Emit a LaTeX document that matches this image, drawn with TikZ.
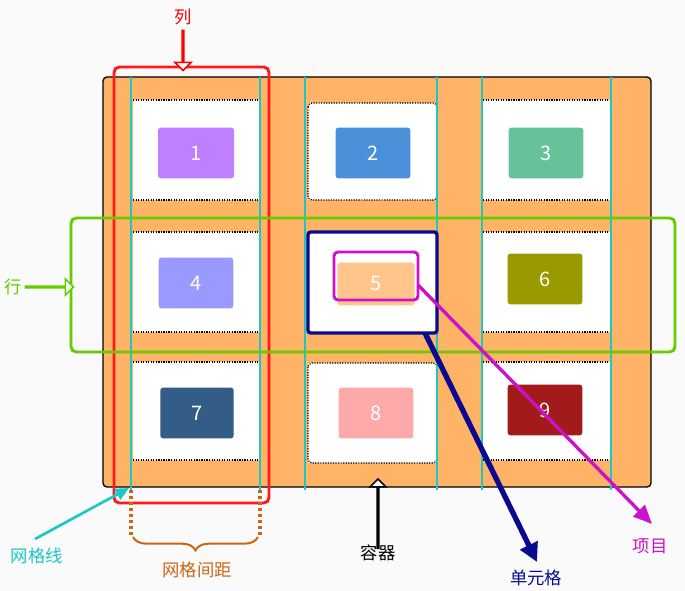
\documentclass[tikz,border=0pt]{standalone}
\usepackage{fontspec}
\setmainfont{Noto Sans CJK SC}
\usetikzlibrary{arrows.meta,decorations.pathreplacing,shapes.arrows}
\definecolor{bg}{HTML}{FAFAFA}
\definecolor{cont}{HTML}{FFB366}
\definecolor{cyanl}{HTML}{1CC7C7}
\definecolor{navy}{HTML}{0A0A90}
\definecolor{mag}{HTML}{CC11CC}
\definecolor{gap}{HTML}{CC6611}
\tikzset{
 cell/.style={fill=white,draw=black,densely dotted,line width=0.9},
 item/.style={rounded corners=2,text=white,font=\fontsize{15}{15}\selectfont,inner sep=0},
 gl/.style={cyanl,line width=2.2},
 lab/.style={font=\fontsize{13}{13}\selectfont,inner sep=0},
 hollow/.style={single arrow,draw,fill=white,line width=1.2,single arrow head extend=5,inner sep=0,minimum height=30,minimum width=12}
}
\begin{document}
\begin{tikzpicture}[x=0.75pt,y=-0.75pt]
\useasboundingbox[fill=bg] (0,0) rectangle (685,591);
\draw[fill=cont,rounded corners=3,line width=1] (103,77) rectangle (651,487);
% cells
\foreach \x/\y/\X/\Y in {133/100/260/200,133/232/260/332,133/362/260/460,308/103/437/200,308/232/437/332,308/363/437/463,483/100/611/200,483/232/611/332,483/362/611/460}
  \fill[white] (\x,\y) rectangle (\X,\Y);
\foreach \x/\y/\X/\Y in {133/100/260/200,133/232/260/332,133/362/260/460,483/100/611/200,483/232/611/332,483/362/611/460}
  {\draw[densely dotted,line width=0.9] (\x,\y) -- (\X,\y); \draw[densely dotted,line width=0.9] (\x,\Y) -- (\X,\Y);}
\foreach \x/\y/\X/\Y in {308/103/437/200,308/363/437/463}
  \draw[densely dotted,line width=0.9,rounded corners=3] (\x,\y) rectangle (\X,\Y);
% items
\node[item,fill={rgb,255:red,191;green,127;blue,255},minimum width=57,minimum height=38] (i1) at (196,153) {1};
\node[item,fill={rgb,255:red,74;green,144;blue,217},minimum width=56,minimum height=38] (i2) at (373,153) {2};
\node[item,fill={rgb,255:red,102;green,194;blue,153},minimum width=56,minimum height=38] (i3) at (546,153) {3};
\node[item,fill={rgb,255:red,153;green,153;blue,255},minimum width=56,minimum height=38] (i4) at (196,283) {4};
\node[item,fill={rgb,255:red,255;green,197;blue,138},minimum width=58,minimum height=32] (i5) at (376,284) {5};
\node[item,fill={rgb,255:red,153;green,153;blue,0},minimum width=56,minimum height=38] (i6) at (545,279) {6};
\node[item,fill={rgb,255:red,51;green,93;blue,134},minimum width=55,minimum height=38] (i7) at (197,413) {7};
\node[item,fill={rgb,255:red,255;green,170;blue,170},minimum width=56,minimum height=38] (i8) at (376,413) {8};
\node[item,fill={rgb,255:red,163;green,26;blue,26},minimum width=56,minimum height=38] (i9) at (545,410) {9};
% grid lines
\foreach \x in {131,260,305,437,482,611} \draw[gl] (\x,77) -- (\x,490);
% highlighted cell and item
\draw[navy,line width=2.5,rounded corners=2] (308,232) rectangle (437,333);
\coordinate (c5) at (425,333);
\draw[mag,line width=2.2,rounded corners=3] (334,252) rectangle (418,300);
\coordinate (m5) at (418,285);
% column / row boxes
\draw[red!90!white,line width=2.2,rounded corners=4] (114,67) rectangle (269,503);
\draw[green!70!black!80!lime,color={rgb,255:red,102;green,204;blue,0},line width=2.2,rounded corners=4] (71,218) rectangle (675,352);
% labels
\node[lab,text=red] (lcol) at (183,17) {列};
\node[hollow,draw=red,shape border rotate=270] (acol) at (183,50) {};
\node[lab,text={rgb,255:red,102;green,204;blue,0}] (lrow) at (13,287) {行};
\node[hollow,draw={rgb,255:red,102;green,204;blue,0},minimum height=36] (arow) at (49,287) {};
\node[hollow,draw=black,shape border rotate=90,minimum height=52] (acont) at (378,514) {};
\node[lab] (lcont) at (378,553) {容器};
\node[lab,text=navy] (lcell) at (536,578) {单元格};
\draw[navy,line width=4,-{Triangle[length=14,width=14]}] (c5) -- (537,562);
\node[lab,text=mag] (litem) at (650,546) {项目};
\draw[mag,line width=2.5,-{Triangle[length=14,width=12]}] (m5) -- (652,524);
\node[lab,text=cyanl] (lgl) at (37,556) {网格线};
\coordinate (glp) at (129,488);
\draw[cyanl,line width=2,-{Triangle[length=10,width=9]}] (35,539) -- (glp);
\draw[gap,line width=2.5,dotted] (131,490) -- (131,535);
\draw[gap,line width=2.5,dotted] (260,490) -- (260,535);
\draw[gap,line width=1.5,decorate,decoration={brace,mirror,amplitude=10}] (133,537) -- (258,537);
\node[lab,text=gap] (lgap) at (197,570) {网格间距};
\end{tikzpicture}
\end{document}
